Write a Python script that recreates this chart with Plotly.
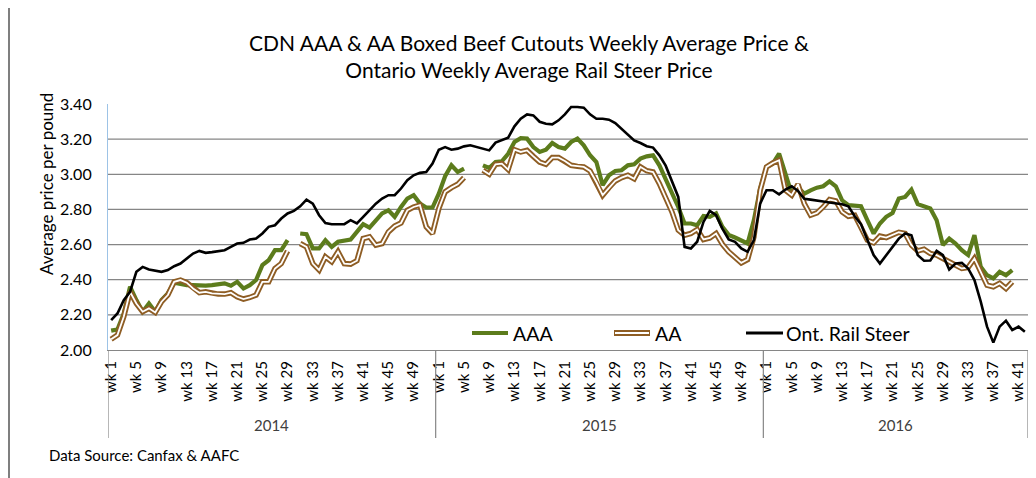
import plotly.graph_objects as go

# ---------------- data ----------------
years = ["2014", "2015", "2016"]
weeks_per_year = [52, 52, 42]

aaa = [2.110, 2.117, 2.208, 2.360, 2.284, 2.218, 2.265, 2.218, 2.284, 2.322, 2.383, 2.375, 2.369, 2.369, 2.366, 2.366,
       2.369, 2.375, 2.379, 2.366, 2.388, 2.350, 2.369, 2.398, 2.483, 2.511, 2.568, 2.568, 2.625,
       None,
       2.663, 2.659, 2.578, 2.578, 2.625, 2.587, 2.616, 2.625, 2.629, 2.672, 2.716, 2.697, 2.739, 2.777, 2.795, 2.758,
       2.814, 2.862, 2.881, 2.833, 2.811, 2.811,
       2.890, 2.989, 3.051, 3.013, 3.032,
       None, None,
       3.051, 3.036, 3.070, 3.074, 3.117, 3.184, 3.206, 3.203, 3.155, 3.127, 3.140, 3.178, 3.155, 3.146, 3.184, 3.203,
       3.165, 3.108, 3.070, 2.938, 2.994, 3.019, 3.023, 3.051, 3.057, 3.089, 3.102,
       3.108, 3.051, 2.975, 2.886, 2.814, 2.720, 2.720, 2.710, 2.763, 2.758, 2.777, 2.701, 2.655, 2.640, 2.625, 2.606,
       2.739, 2.919,
       3.042, 3.061, 3.117, 2.994, 2.890, 2.924, 2.890, 2.909, 2.924, 2.932,
       2.960, 2.932, 2.852, 2.824, 2.818, 2.818, 2.739, 2.663, 2.720, 2.758, 2.780, 2.862, 2.871, 2.913, 2.830, 2.818,
       2.805, 2.739, 2.597, 2.634, 2.606, 2.568, 2.540, 2.653, 2.473, 2.426, 2.407, 2.445, 2.426, 2.455,
       None, None]

aa = [2.061, 2.085, 2.189, 2.331, 2.265, 2.218, 2.237, 2.214, 2.275, 2.313, 2.388, 2.398, 2.383, 2.350, 2.326, 2.331,
      2.322, 2.318, 2.318, 2.326, 2.303, 2.290, 2.299, 2.313, 2.388, 2.388, 2.464, 2.492, 2.564,
      None,
      2.606, 2.587, 2.492, 2.455, 2.530, 2.502, 2.559, 2.492, 2.489, 2.508, 2.634, 2.644, 2.597, 2.606, 2.672, 2.705,
      2.723, 2.795, 2.814, 2.824, 2.701, 2.663,
      2.805, 2.900, 2.924, 2.943, 2.981,
      None, None,
      3.023, 3.000, 3.057, 3.061, 3.027, 3.140, 3.127, 3.136, 3.102, 3.070, 3.057, 3.095, 3.095, 3.076, 3.051, 3.045,
      3.042, 3.019, 2.956, 2.881, 2.924, 2.962, 2.981, 2.994, 2.975, 3.042, 3.020,
      3.013, 2.947, 2.871, 2.786, 2.682, 2.653, 2.663, 2.686, 2.629, 2.638, 2.663, 2.602, 2.559, 2.530, 2.496, 2.515,
      2.644, 2.909,
      3.042, 3.064, 3.080, 2.909, 2.881, 2.943, 2.833, 2.767, 2.780, 2.814,
      2.856, 2.848, 2.786, 2.761, 2.767, 2.697, 2.625, 2.610, 2.648, 2.640, 2.653, 2.670, 2.663, 2.597, 2.564, 2.574,
      2.549, 2.540, 2.521, 2.502, 2.483, 2.464, 2.470, 2.521, 2.445, 2.369, 2.360, 2.379, 2.350, 2.388,
      None, None]

rail = [2.170, 2.208, 2.284, 2.331, 2.445, 2.473, 2.458, 2.451, 2.445, 2.455, 2.477, 2.492, 2.521, 2.549, 2.564, 2.553,
        2.557, 2.564, 2.568, 2.587, 2.606, 2.610, 2.629, 2.634, 2.663, 2.701, 2.710, 2.748, 2.777,
        2.792, 2.818, 2.856, 2.833, 2.767, 2.723, 2.716, 2.716, 2.716, 2.739, 2.720, 2.758, 2.795, 2.833, 2.862, 2.881,
        2.881, 2.919, 2.966, 2.994, 3.008, 3.013, 3.061,
        3.140, 3.155, 3.140, 3.146, 3.159,
        3.165, 3.155, 3.146, 3.136, 3.180, 3.193, 3.208, 3.273, 3.316, 3.341, 3.335, 3.299, 3.288, 3.284, 3.307, 3.341,
        3.383, 3.383, 3.379, 3.341, 3.316, 3.316, 3.311, 3.292, 3.259, 3.222, 3.193, 3.178, 3.160,
        3.152, 3.108, 3.049, 2.962, 2.871, 2.587, 2.578, 2.616, 2.729, 2.792, 2.767, 2.691, 2.629, 2.616, 2.578, 2.559,
        2.625, 2.833,
        2.909, 2.909, 2.886, 2.913, 2.932, 2.905, 2.860, 2.856, 2.852, 2.845,
        2.839, 2.835, 2.830, 2.818, 2.761, 2.716, 2.625, 2.540, 2.492, 2.540, 2.591, 2.634, 2.663, 2.653, 2.540, 2.508,
        2.509, 2.564, 2.540, 2.458, 2.492, 2.496, 2.464, 2.398, 2.275, 2.133, 2.042, 2.133, 2.167, 2.114, 2.133, 2.104]

y_ticks = [2.00, 2.20, 2.40, 2.60, 2.80, 3.00, 3.20, 3.40]
grid_vals = [2.20, 2.40, 2.60, 2.80, 3.00, 3.20]

# categories
week_labels = []
for yr, n in zip(years, weeks_per_year):
    for w in range(1, n + 1):
        week_labels.append(f"wk {w}")
x = list(range(len(week_labels)))
tickvals = [i for i, lab in enumerate(week_labels) if (int(lab.split()[1]) - 1) % 4 == 0]
ticktext = [week_labels[i] for i in tickvals]

# ---------------- geometry (screen pixels; page body adds an 8px offset) ----------------
OFF = 8
W, H = 1036 - OFF, 478 - OFF
SL, SR, ST, SB = 108, 1028, 104, 350          # plot area in screen pixels
L, R, T, B = SL - OFF, SR - OFF, ST - OFF, SB - OFF


def px(xs):
    return (xs - SL) / (SR - SL)


def py(ys):
    return (SB - ys) / (SB - ST)


FONT = "Lato, 'Open Sans', sans-serif"
GREEN = "#5C7C1C"
BROWN = "#8E5D24"
GRID = "#868686"

fig = go.Figure()
fig.add_trace(go.Scatter(x=x, y=aaa, mode="lines", name="AAA",
                         line=dict(color=GREEN, width=4.2), connectgaps=False, showlegend=False))
fig.add_trace(go.Scatter(x=x, y=aa, mode="lines", name="AA",
                         line=dict(color=BROWN, width=5.5), connectgaps=False, showlegend=False))
fig.add_trace(go.Scatter(x=x, y=aa, mode="lines", name="AA inner",
                         line=dict(color="white", width=1.8), connectgaps=False, showlegend=False))
fig.add_trace(go.Scatter(x=x, y=rail, mode="lines", name="Ont. Rail Steer",
                         line=dict(color="black", width=2.6), connectgaps=False, showlegend=False))

shapes = []
for g in grid_vals:
    shapes.append(dict(type="line", xref="paper", yref="y", x0=0, x1=1, y0=g, y1=g,
                       line=dict(color=GRID, width=1.2), layer="below"))
starts = [0]
for n in weeks_per_year:
    starts.append(starts[-1] + n)
for s in starts:
    shapes.append(dict(type="line", xref="x", yref="paper", x0=s - 0.5, x1=s - 0.5,
                       y0=0, y1=py(438), line=dict(color=GRID, width=1.2)))
# chart border (left edge)
shapes.append(dict(type="line", xref="paper", yref="paper", x0=px(9), x1=px(9), y0=py(OFF), y1=py(478),
                   line=dict(color="#7F7F7F", width=2)))

# legend samples
ly = py(333)
shapes.append(dict(type="line", xref="paper", yref="paper", x0=px(472), x1=px(508), y0=ly, y1=ly,
                   line=dict(color=GREEN, width=4)))
shapes.append(dict(type="line", xref="paper", yref="paper", x0=px(614), x1=px(650), y0=ly, y1=ly,
                   line=dict(color=BROWN, width=6)))
shapes.append(dict(type="line", xref="paper", yref="paper", x0=px(615), x1=px(649), y0=ly, y1=ly,
                   line=dict(color="white", width=2)))
shapes.append(dict(type="line", xref="paper", yref="paper", x0=px(746), x1=px(783), y0=ly, y1=ly,
                   line=dict(color="black", width=3)))

annotations = []
for txt, xpix in [("AAA", 511), ("AA", 653), ("Ont. Rail Steer", 784)]:
    annotations.append(dict(text=txt, xref="paper", yref="paper", x=px(xpix), y=ly, xanchor="left",
                            yanchor="middle", showarrow=False, font=dict(family=FONT, size=19.5, color="black")))
for k, yr in enumerate(years):
    c = (starts[k] + starts[k + 1] - 1) / 2
    annotations.append(dict(text=yr, xref="x", yref="paper", x=c, y=py(425), xanchor="center",
                            yanchor="middle", showarrow=False, font=dict(family=FONT, size=15, color="#404040")))
annotations.append(dict(text="CDN AAA &amp; AA Boxed Beef Cutouts Weekly Average Price &amp;<br>Ontario Weekly Average Rail Steer Price",
                        xref="paper", yref="paper", x=px(529), y=py(56), xanchor="center", yanchor="middle",
                        showarrow=False, align="center",
                        font=dict(family=FONT, size=21, color="black")))
annotations.append(dict(text="Average price per pound", xref="paper", yref="paper", x=px(46), y=py(184),
                        xanchor="center", yanchor="middle", textangle=-90, showarrow=False,
                        font=dict(family=FONT, size=17, color="black")))
annotations.append(dict(text="Data Source: Canfax &amp; AAFC", xref="paper", yref="paper", x=px(47), y=py(455),
                        xanchor="left", yanchor="middle", showarrow=False,
                        font=dict(family=FONT, size=15, color="black")))

fig.update_layout(
    width=W, height=H,
    margin=dict(l=L, r=W - R, t=T, b=H - B, pad=0, autoexpand=False),
    paper_bgcolor="white", plot_bgcolor="white",
    shapes=shapes, annotations=annotations,
    showlegend=False,
    xaxis=dict(range=[-0.5, len(x) - 0.5], tickmode="array", tickvals=tickvals, ticktext=ticktext,
               tickangle=-90, showgrid=False, zeroline=False, showline=True, linecolor=GRID, linewidth=1.2,
               ticks="", tickfont=dict(family=FONT, size=15, color="black"), ticklabelstandoff=4,
               automargin=False),
    yaxis=dict(range=[2.0, 3.4], tickmode="array", tickvals=y_ticks, ticktext=[f"{v:.2f}" for v in y_ticks],
               showgrid=False, zeroline=False, showline=True, linecolor="#9DC3E6", linewidth=1.2,
               ticks="", tickfont=dict(family=FONT, size=16, color="black"), ticklabelstandoff=12,
               automargin=False),
)

fig.write_html("out.html")
